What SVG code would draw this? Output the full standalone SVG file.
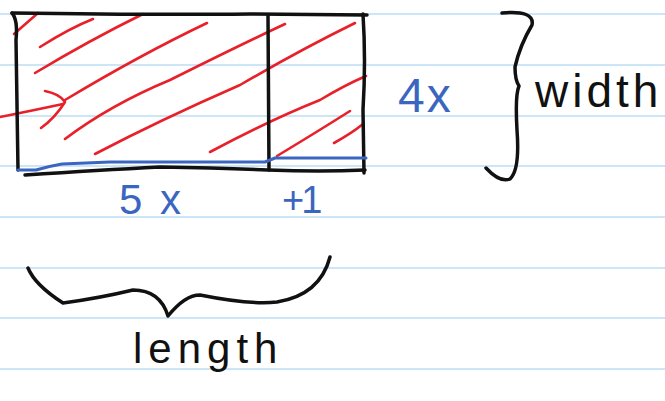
<svg xmlns="http://www.w3.org/2000/svg" width="665" height="401" viewBox="0 0 665 401">
<style>
.rule{stroke:#cde6f7;stroke-width:2}
.ink{fill:none;stroke:#111;stroke-width:3.5;stroke-linecap:round;stroke-linejoin:round}
.red{fill:none;stroke:#e8202a;stroke-width:2.6;stroke-linecap:round;stroke-linejoin:round}
.blue{fill:none;stroke:#3b66c0;stroke-width:3;stroke-linecap:round;stroke-linejoin:round}
.bt{font-family:"Liberation Sans",sans-serif;fill:#3b66c0}
.kt{font-family:"Liberation Sans",sans-serif;fill:#111}
</style>
<rect width="665" height="401" fill="#fff"/>
<g id="paper">
<line class="rule" x1="0" y1="14" x2="665" y2="14"/>
<line class="rule" x1="0" y1="65" x2="665" y2="65"/>
<line class="rule" x1="0" y1="116" x2="665" y2="116"/>
<line class="rule" x1="0" y1="166" x2="665" y2="166"/>
<line class="rule" x1="0" y1="217" x2="665" y2="217"/>
<line class="rule" x1="0" y1="268" x2="665" y2="268"/>
<line class="rule" x1="0" y1="318" x2="665" y2="318"/>
<line class="rule" x1="0" y1="369" x2="665" y2="369"/>
</g>
<g id="hatching">
<path class="red" d="M14,34 L38,13"/>
<path class="red" d="M40,47 Q70,28 93,19"/>
<path class="red" d="M35,73 Q90,40 143,14"/>
<path class="red" d="M65,100 Q140,55 207,23"/>
<path class="red" d="M65,139 Q110,105 170,80 Q240,45 285,24"/>
<path class="red" d="M95,154 Q160,120 240,85 Q300,50 355,23"/>
<path class="red" d="M210,152 Q270,120 320,100 Q345,85 366,76"/>
<path class="red" d="M277,156 Q320,130 350,111"/>
<path class="red" d="M334,143 Q352,133 363,124"/>
</g>
<g id="arrow">
<path class="red" d="M0,117 Q35,110 63,104"/>
<path class="red" d="M45,91 Q60,94 65,102 Q55,118 41,128"/>
</g>
<g id="rectangle">
<path class="ink" d="M12,13 Q150,15 250,14 L367,15"/>
<path class="ink" d="M12,13 Q18,20 16,40 L18,170"/>
<path class="ink" d="M25,175 Q100,170 160,167 Q220,168 268,170 Q320,172 365,170"/>
<path class="ink" d="M363,14 Q366,60 363,110 L364,173"/>
<path class="ink" d="M268,16 L269,170"/>
</g>
<g id="baseline">
<path class="blue" d="M18,170 L36,170 Q50,166 62,164 L110,162 L265,162 L275,158 L366,158"/>
</g>
<g id="width-brace">
<path class="ink" d="M502,13 Q535,10 532,25 Q520,45 515,67 Q515,80 519,86 Q515,95 517,130 Q520,170 510,179 Q500,183 486,168"/>
</g>
<g id="length-brace">
<path class="ink" d="M28,268 Q35,285 63,303 Q100,298 133,290 Q160,290 168,316 Q185,295 200,295 Q250,305 277,302 Q320,295 330,257"/>
</g>
<g id="labels">
<text class="bt" x="398" y="112" font-size="48" letter-spacing="2">4x</text>
<text class="bt" x="119" y="214" font-size="42" letter-spacing="3">5 x</text>
<text class="bt" x="282" y="213" font-size="38" letter-spacing="-3">+1</text>
<text class="kt" x="535" y="107" font-size="46" letter-spacing="4">width</text>
<text class="kt" x="133" y="363" font-size="42" letter-spacing="6">length</text>
</g>
</svg>
